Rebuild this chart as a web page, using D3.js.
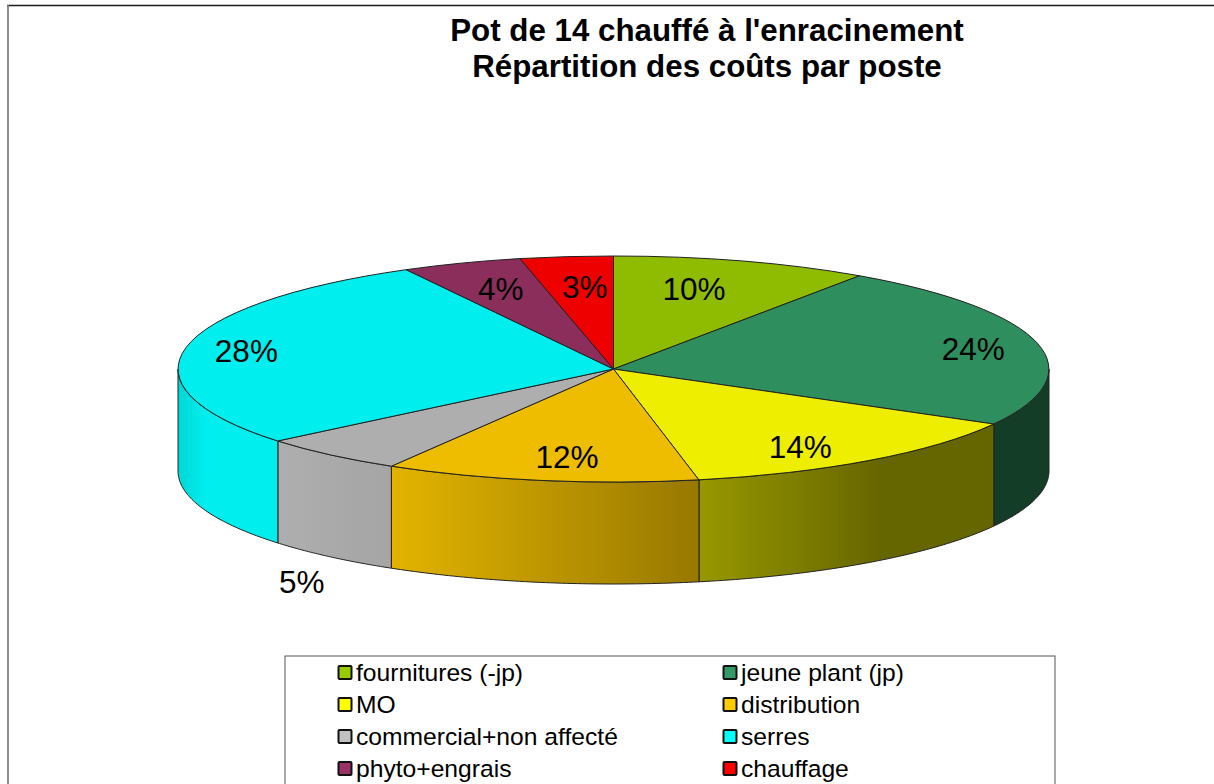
<!DOCTYPE html>
<html>
<head>
<meta charset="utf-8">
<script src="https://cdnjs.cloudflare.com/ajax/libs/d3/7.8.5/d3.min.js"></script>
<style>
html,body{margin:0;padding:0;background:#fff;overflow:hidden}
svg{display:block}
text{font-family:"Liberation Sans",Arial,sans-serif;fill:#000}
</style>
</head>
<body>
<svg id="c" width="1214" height="784"></svg>
<script>
const titleLines = ["Pot de 14 chauffé à l'enracinement", "Répartition des coûts par poste"];
const categories = ["fournitures (-jp)", "jeune plant (jp)", "MO", "distribution", "commercial+non affecté", "serres", "phyto+engrais", "chauffage"];
const values = [9.55, 23.55, 13.755, 11.665, 5.485, 28.095, 4.45, 3.45];
const legendColors = ["#99CC00", "#339966", "#FFFF00", "#FFCC00", "#C0C0C0", "#00FFFF", "#993366", "#FF0000"];
const topColors = ["#8FBC00", "#2E8E5E", "#EEEE00", "#EEBD00", "#AEAEAE", "#00EEEE", "#8B2E5C", "#EE0000"];

// Layout (not data)
const W = 1214, H = 784;
const cx = 613.5, cy = 369, rx = 435.5, ry = 113, depth = 102;
const labelAnchors = [[.185,-.708],[.826,-.177],[.429,.690],[-.107,.779],[-.716,1.885],[-.843,-.159],[-.259,-.708],[-.066,-.726]];
const shadeX = [178, 205, 277, 391, 698, 880, 1050];
const shadeK = [.90, 1, 1, .95, .64, .43, .43];

const svg = d3.select("#c");
const defs = svg.append("defs");
const fmt = d3.format(".0f");
const total = d3.sum(values);
const pct = values.map(v => fmt(v / total * 100) + "%");

const x = d3.scaleLinear().domain([-1, 1]).range([cx - rx, cx + rx]);
const y = d3.scaleLinear().domain([-1, 1]).range([cy - ry, cy + ry]);
const px = a => x(Math.sin(a));
const py = a => y(-Math.cos(a));
const shade = d3.scaleLinear().domain(shadeX).range(shadeK);

// frame
svg.append("line").attr("x1", 7).attr("x2", W).attr("y1", 5.5).attr("y2", 5.5).attr("stroke", "#1a1a1a").attr("stroke-width", 1.4);
svg.append("line").attr("x1", 8).attr("x2", 8).attr("y1", 5).attr("y2", H).attr("stroke", "#808080").attr("stroke-width", 1.8);

// title
svg.selectAll("text.title").data(titleLines).join("text").attr("class", "title")
  .attr("x", 707).attr("y", (d, i) => 41 + i * 36)
  .attr("text-anchor", "middle").attr("font-size", 31.3).attr("font-weight", "bold")
  .text(d => d);

const pie = d3.pie().sort(null).value(d => d.v);
const arcs = pie(values.map((v, i) => ({v, i})));

// side walls
const wallLine = d3.line().x(d => d[0]).y(d => d[1]);
arcs.forEach((a, i) => {
  const s = Math.max(a.startAngle, Math.PI / 2), e = Math.min(a.endAngle, 3 * Math.PI / 2);
  if (e <= s) return;
  const g = defs.append("linearGradient").attr("id", "wall" + i)
    .attr("gradientUnits", "userSpaceOnUse").attr("x1", 178).attr("x2", 1050).attr("y1", 0).attr("y2", 0);
  const base = d3.rgb(topColors[i]);
  shadeX.forEach(sx => {
    const k = shade(sx);
    g.append("stop").attr("offset", (sx - 178) / 872)
      .attr("stop-color", d3.rgb(Math.min(255, base.r * k), Math.min(255, base.g * k), Math.min(255, base.b * k)).formatHex());
  });
  const angs = d3.range(0, 61).map(t => s + (e - s) * t / 60);
  const pts = angs.map(t => [px(t), py(t)]).concat(angs.slice().reverse().map(t => [px(t), py(t) + depth]));
  svg.append("path").attr("d", wallLine(pts) + "Z")
    .attr("fill", `url(#wall${i})`).attr("stroke", "#222").attr("stroke-width", 1).attr("stroke-linejoin", "round");
});

// top faces
const arcGen = d3.arc().innerRadius(0).outerRadius(1);
svg.append("g").attr("transform", `translate(${cx},${cy}) scale(${rx},${ry})`)
  .selectAll("path").data(arcs).join("path")
  .attr("d", arcGen)
  .attr("fill", (d, i) => topColors[i])
  .attr("stroke", "#222").attr("stroke-width", 1)
  .attr("stroke-linejoin", "round")
  .attr("vector-effect", "non-scaling-stroke");

// data labels
svg.selectAll("text.lab").data(pct).join("text").attr("class", "lab")
  .attr("x", (d, i) => x(labelAnchors[i][0])).attr("y", (d, i) => y(labelAnchors[i][1]))
  .attr("dy", "0.35em").attr("text-anchor", "middle").attr("font-size", 31.5)
  .text(d => d);

// legend
svg.append("rect").attr("x", 285).attr("y", 656).attr("width", 770).attr("height", 160)
  .attr("fill", "none").attr("stroke", "#555").attr("stroke-width", 1);
const colX = d3.scaleOrdinal().domain([0, 1]).range([338, 723]);
const rowY = d3.scaleLinear().domain([0, 3]).range([673, 769]);
const items = svg.selectAll("g.item").data(categories).join("g").attr("class", "item")
  .attr("transform", (d, i) => `translate(${colX(i % 2)},${rowY(Math.floor(i / 2))})`);
items.append("rect").attr("x", .5).attr("y", -7).attr("width", 13).attr("height", 13).attr("rx", 1)
  .attr("fill", (d, i) => legendColors[i]).attr("stroke", "#111").attr("stroke-width", 2);
items.append("text").attr("x", 18).attr("y", -0.7).attr("dy", "0.35em").attr("font-size", 24.65).text(d => d);
</script>
</body>
</html>
